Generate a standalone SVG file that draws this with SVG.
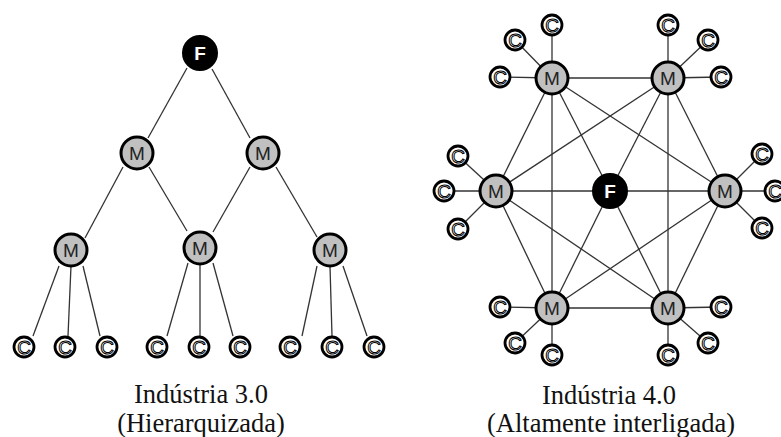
<svg xmlns="http://www.w3.org/2000/svg" width="781" height="437" viewBox="0 0 781 437">
<defs>
<style>
.e{stroke:#333;stroke-width:1.3;fill:none}
.m circle{fill:#c0c0c0;stroke:#000;stroke-width:3}
.m text{font-family:"Liberation Sans",Arial,sans-serif;font-size:19px;fill:#222;text-anchor:middle}
.f circle{fill:#000;stroke:#000;stroke-width:2}
.f text{font-family:"Liberation Sans",Arial,sans-serif;font-size:19px;font-weight:bold;fill:#fff;text-anchor:middle}
.c circle{fill:#fff;stroke:#000;stroke-width:2.8}
.c text{font-family:"Liberation Sans",Arial,sans-serif;font-size:19px;fill:#fff;stroke:#000;stroke-width:1;text-anchor:middle}
.t{font-family:"Liberation Serif","Times New Roman",serif;font-size:26.5px;fill:#111;text-anchor:middle}
</style>
</defs>
<rect width="781" height="437" fill="#fff"/>
<g id="connectors">
<line class="e" x1="187" y1="68" x2="148" y2="138"/>
<line class="e" x1="212" y1="69" x2="250" y2="138"/>
<line class="e" x1="123" y1="167" x2="85" y2="238"/>
<line class="e" x1="149" y1="167" x2="187" y2="231"/>
<line class="e" x1="250" y1="167" x2="213" y2="232"/>
<line class="e" x1="276" y1="167" x2="317" y2="237"/>
<line class="e" x1="59" y1="266" x2="33" y2="336"/>
<line class="e" x1="71" y1="266" x2="68" y2="336"/>
<line class="e" x1="83" y1="266" x2="100" y2="336"/>
<line class="e" x1="188" y1="263" x2="167" y2="336"/>
<line class="e" x1="200" y1="264" x2="200" y2="336"/>
<line class="e" x1="213" y1="263" x2="233" y2="336"/>
<line class="e" x1="317" y1="266" x2="302" y2="336"/>
<line class="e" x1="330" y1="266" x2="332" y2="336"/>
<line class="e" x1="343" y1="266" x2="367" y2="336"/>
<line class="e" x1="552" y1="78" x2="668" y2="78"/>
<line class="e" x1="552" y1="308" x2="668" y2="308"/>
<line class="e" x1="496" y1="191" x2="725" y2="191"/>
<line class="e" x1="552" y1="78" x2="552" y2="308"/>
<line class="e" x1="668" y1="78" x2="668" y2="308"/>
<line class="e" x1="552" y1="78" x2="610" y2="191"/>
<line class="e" x1="610" y1="191" x2="668" y2="308"/>
<line class="e" x1="668" y1="78" x2="610" y2="191"/>
<line class="e" x1="610" y1="191" x2="552" y2="308"/>
<line class="e" x1="552" y1="78" x2="496" y2="191"/>
<line class="e" x1="552" y1="78" x2="725" y2="191"/>
<line class="e" x1="668" y1="78" x2="496" y2="191"/>
<line class="e" x1="668" y1="78" x2="725" y2="191"/>
<line class="e" x1="552" y1="308" x2="496" y2="191"/>
<line class="e" x1="552" y1="308" x2="725" y2="191"/>
<line class="e" x1="668" y1="308" x2="496" y2="191"/>
<line class="e" x1="668" y1="308" x2="725" y2="191"/>
<line class="e" x1="552" y1="78" x2="500" y2="77"/>
<line class="e" x1="552" y1="78" x2="515" y2="40"/>
<line class="e" x1="552" y1="78" x2="552" y2="25"/>
<line class="e" x1="668" y1="78" x2="668" y2="25"/>
<line class="e" x1="668" y1="78" x2="708" y2="40"/>
<line class="e" x1="668" y1="78" x2="721" y2="77"/>
<line class="e" x1="496" y1="191" x2="458" y2="156"/>
<line class="e" x1="496" y1="191" x2="444" y2="191"/>
<line class="e" x1="496" y1="191" x2="458" y2="229"/>
<line class="e" x1="725" y1="191" x2="762" y2="154"/>
<line class="e" x1="725" y1="191" x2="775" y2="191"/>
<line class="e" x1="725" y1="191" x2="762" y2="228"/>
<line class="e" x1="552" y1="308" x2="500" y2="307"/>
<line class="e" x1="552" y1="308" x2="515" y2="343"/>
<line class="e" x1="552" y1="308" x2="552" y2="355"/>
<line class="e" x1="668" y1="308" x2="721" y2="307"/>
<line class="e" x1="668" y1="308" x2="708" y2="343"/>
<line class="e" x1="668" y1="308" x2="668" y2="355"/>
</g>
<g id="F1" class="f"><circle cx="200" cy="53" r="17"/><text x="200" y="60">F</text></g>
<g id="M1" class="m"><circle cx="137" cy="153" r="16"/><text x="137" y="160">M</text></g>
<g id="M2" class="m"><circle cx="263" cy="153" r="16"/><text x="263" y="160">M</text></g>
<g id="M3" class="m"><circle cx="71" cy="250" r="16"/><text x="71" y="257">M</text></g>
<g id="M4" class="m"><circle cx="200" cy="248" r="16"/><text x="200" y="255">M</text></g>
<g id="M5" class="m"><circle cx="330" cy="250" r="16"/><text x="330" y="257">M</text></g>
<g id="C1" class="c"><circle cx="24" cy="347" r="10"/><text x="24" y="354">C</text></g>
<g id="C2" class="c"><circle cx="65" cy="347" r="10"/><text x="65" y="354">C</text></g>
<g id="C3" class="c"><circle cx="107" cy="347" r="10"/><text x="107" y="354">C</text></g>
<g id="C4" class="c"><circle cx="157" cy="347" r="10"/><text x="157" y="354">C</text></g>
<g id="C5" class="c"><circle cx="199" cy="347" r="10"/><text x="199" y="354">C</text></g>
<g id="C6" class="c"><circle cx="240" cy="347" r="10"/><text x="240" y="354">C</text></g>
<g id="C7" class="c"><circle cx="290" cy="347" r="10"/><text x="290" y="354">C</text></g>
<g id="C8" class="c"><circle cx="332" cy="347" r="10"/><text x="332" y="354">C</text></g>
<g id="C9" class="c"><circle cx="374" cy="347" r="10"/><text x="374" y="354">C</text></g>
<g id="F2" class="f"><circle cx="610" cy="191" r="17"/><text x="610" y="198">F</text></g>
<g id="MTL" class="m"><circle cx="552" cy="78" r="16"/><text x="552" y="85">M</text></g>
<g id="MTR" class="m"><circle cx="668" cy="78" r="16"/><text x="668" y="85">M</text></g>
<g id="ML" class="m"><circle cx="496" cy="191" r="16"/><text x="496" y="198">M</text></g>
<g id="MR" class="m"><circle cx="725" cy="191" r="16"/><text x="725" y="198">M</text></g>
<g id="MBL" class="m"><circle cx="552" cy="308" r="16"/><text x="552" y="315">M</text></g>
<g id="MBR" class="m"><circle cx="668" cy="308" r="16"/><text x="668" y="315">M</text></g>
<g id="C10" class="c"><circle cx="500" cy="77" r="10"/><text x="500" y="84">C</text></g>
<g id="C11" class="c"><circle cx="515" cy="40" r="10"/><text x="515" y="47">C</text></g>
<g id="C12" class="c"><circle cx="552" cy="25" r="10"/><text x="552" y="32">C</text></g>
<g id="C13" class="c"><circle cx="668" cy="25" r="10"/><text x="668" y="32">C</text></g>
<g id="C14" class="c"><circle cx="708" cy="40" r="10"/><text x="708" y="47">C</text></g>
<g id="C15" class="c"><circle cx="721" cy="77" r="10"/><text x="721" y="84">C</text></g>
<g id="C16" class="c"><circle cx="458" cy="156" r="10"/><text x="458" y="163">C</text></g>
<g id="C17" class="c"><circle cx="444" cy="191" r="10"/><text x="444" y="198">C</text></g>
<g id="C18" class="c"><circle cx="458" cy="229" r="10"/><text x="458" y="236">C</text></g>
<g id="C19" class="c"><circle cx="762" cy="154" r="10"/><text x="762" y="161">C</text></g>
<g id="C20" class="c"><circle cx="775" cy="191" r="10"/><text x="775" y="198">C</text></g>
<g id="C21" class="c"><circle cx="762" cy="228" r="10"/><text x="762" y="235">C</text></g>
<g id="C22" class="c"><circle cx="500" cy="307" r="10"/><text x="500" y="314">C</text></g>
<g id="C23" class="c"><circle cx="515" cy="343" r="10"/><text x="515" y="350">C</text></g>
<g id="C24" class="c"><circle cx="552" cy="355" r="10"/><text x="552" y="362">C</text></g>
<g id="C25" class="c"><circle cx="721" cy="307" r="10"/><text x="721" y="314">C</text></g>
<g id="C26" class="c"><circle cx="708" cy="343" r="10"/><text x="708" y="350">C</text></g>
<g id="C27" class="c"><circle cx="668" cy="355" r="10"/><text x="668" y="362">C</text></g>
<text class="t" x="201" y="403">Indústria 3.0</text>
<text class="t" x="201" y="432">(Hierarquizada)</text>
<text class="t" x="609" y="404">Indústria 4.0</text>
<text class="t" x="611" y="432">(Altamente interligada)</text>
</svg>
